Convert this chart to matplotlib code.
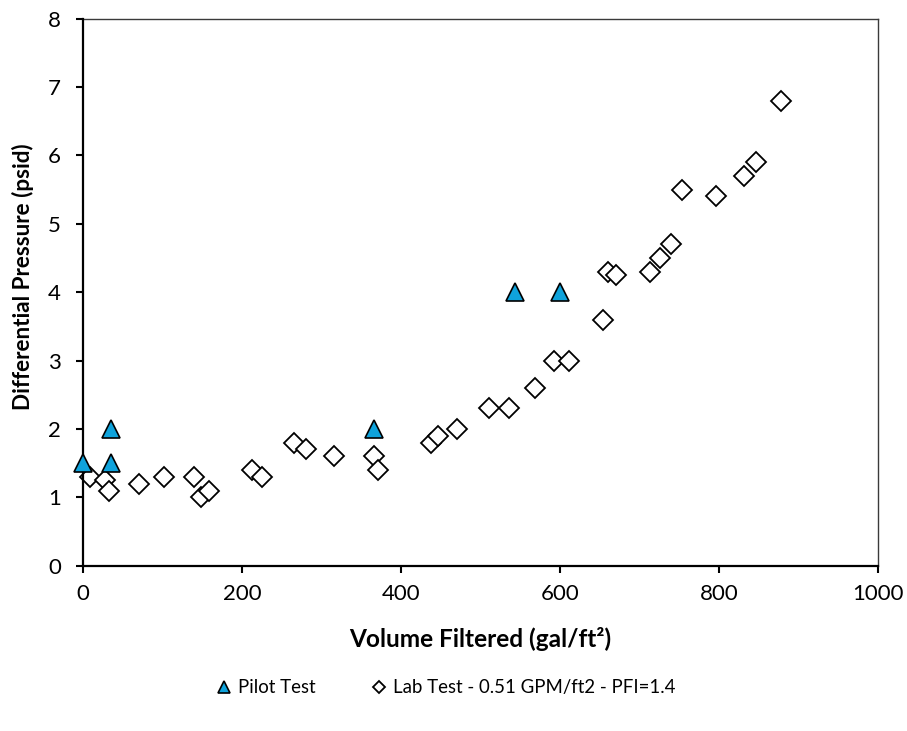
import matplotlib
matplotlib.use("Agg")
import matplotlib.pyplot as plt

plt.rcParams['font.family'] = ['Lato', 'DejaVu Sans']

# Pilot test readings
pilot_volume = [0, 35, 35, 366, 543, 600]
pilot_dp = [1.5, 2.0, 1.5, 2.0, 4.0, 4.0]

# Lab test readings (0.51 GPM/ft2, PFI=1.4)
lab_volume = [9, 28, 33, 70, 102, 140, 148, 158, 212, 225, 265, 281, 316,
              366, 371, 438, 446, 471, 511, 536, 568, 592, 611, 654, 660,
              671, 713, 726, 740, 754, 796, 832, 847, 878]
lab_dp = [1.3, 1.25, 1.1, 1.2, 1.3, 1.3, 1.0, 1.1, 1.4, 1.3, 1.8, 1.7, 1.6,
          1.6, 1.4, 1.8, 1.9, 2.0, 2.3, 2.3, 2.6, 3.0, 3.0, 3.6, 4.3,
          4.25, 4.3, 4.5, 4.7, 5.5, 5.4, 5.7, 5.9, 6.8]

x_ticks = [0, 200, 400, 600, 800, 1000]
y_ticks = [0, 1, 2, 3, 4, 5, 6, 7, 8]

fig = plt.figure(figsize=(9.07, 7.31), dpi=100)
ax = fig.add_axes([0.0915, 0.2261, 0.8765, 0.7483])

ax.plot(pilot_volume, pilot_dp, linestyle='none', marker='^', markersize=13.5,
        markerfacecolor='#0FA3DC', markeredgecolor='black', markeredgewidth=1.2,
        label='Pilot Test', zorder=5, clip_on=False)
ax.plot(lab_volume, lab_dp, linestyle='none', marker='D', markersize=9.8,
        markerfacecolor='white', markeredgecolor='black', markeredgewidth=1.3,
        label='Lab Test - 0.51 GPM/ft2 - PFI=1.4', zorder=3, clip_on=False)

ax.set_xlim(0, 1000)
ax.set_ylim(0, 8)
ax.set_xticks(x_ticks)
ax.set_yticks(y_ticks)
ax.tick_params(axis='both', direction='out', length=5, width=1.5, labelsize=16,
               color='black')
ax.tick_params(axis='x', pad=8)
ax.tick_params(axis='y', pad=11)

for side in ('left', 'bottom'):
    ax.spines[side].set_linewidth(1.6)
    ax.spines[side].set_color('black')
    ax.spines[side].set_zorder(4)
for side in ('top', 'right'):
    ax.spines[side].set_linewidth(1.0)
    ax.spines[side].set_color('#3a3a3a')

ax.set_xlabel('Volume Filtered (gal/ft²)', fontsize=17.6, fontweight='bold',
              labelpad=17)
ax.set_ylabel('Differential Pressure (psid)', fontsize=16.2, fontweight='bold')
ax.yaxis.set_label_coords(-0.061, 0.528)

handles, labels = ax.get_legend_handles_labels()
fig.legend(handles, labels, loc='center', bbox_to_anchor=(0.492, 0.059),
           ncol=2, frameon=False, fontsize=13.4, markerscale=0.6,
           handlelength=0.8, handletextpad=0.35, columnspacing=3.0)

fig.savefig('out.png', dpi=100)
